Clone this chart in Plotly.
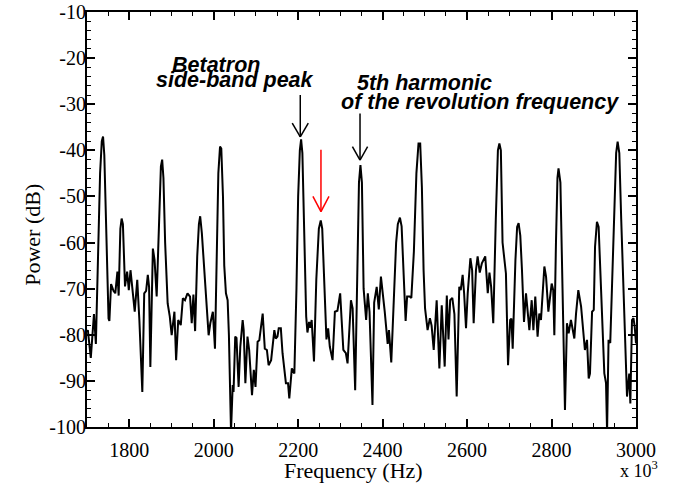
import plotly.graph_objects as go

# ---- data ----
freq = [1700, 1702, 1709, 1716.5, 1721, 1726, 1731, 1735, 1738, 1741, 1745, 1749, 1751, 1753,
        1757, 1763, 1767, 1772, 1775, 1779, 1782, 1785, 1790, 1795, 1799, 1803, 1806, 1813,
        1819, 1824, 1831, 1835.5, 1840, 1844, 1847, 1850, 1856, 1860, 1865, 1870, 1875, 1878,
        1881, 1885, 1891, 1896, 1900.5, 1907, 1911, 1916, 1922, 1927, 1932, 1938, 1944, 1948,
        1952, 1956, 1961, 1965, 1968, 1972, 1978, 1982, 1988, 1992, 1998, 2003, 2007, 2011,
        2015, 2018, 2022, 2025, 2029, 2033, 2036, 2041, 2045, 2047, 2051, 2054, 2059, 2063,
        2068.6, 2071, 2075, 2080, 2084, 2088, 2090.7, 2095, 2099, 2104, 2108, 2116, 2121, 2126,
        2130, 2136, 2143.6, 2147, 2151, 2154, 2159, 2163, 2167, 2171, 2176, 2179, 2185, 2191,
        2196, 2200, 2204, 2207, 2210, 2214, 2219, 2222, 2226, 2229, 2232, 2237.5, 2243, 2249,
        2253.5, 2257, 2260, 2267, 2271, 2275, 2281.5, 2287, 2293, 2299.5, 2303, 2307, 2313, 2317,
        2325, 2329, 2335, 2340, 2344, 2347.5, 2351, 2355, 2358, 2361, 2365, 2369, 2376, 2380,
        2386, 2391, 2396, 2401, 2405, 2412, 2415, 2420.5, 2426, 2432, 2436, 2441, 2445, 2450,
        2454.5, 2458, 2464, 2468, 2474, 2480, 2485, 2489, 2493, 2497, 2500.5, 2506.5, 2512, 2516,
        2521, 2528, 2534.4, 2540, 2547, 2552, 2556, 2560, 2565, 2570, 2575.4, 2581.5, 2585, 2589.5,
        2593, 2597.5, 2601.5, 2607.8, 2612, 2615.6, 2621, 2625, 2630, 2635, 2643, 2649, 2653, 2657,
        2662, 2668, 2673, 2676.5, 2680, 2684, 2688, 2692, 2697, 2702, 2705, 2708, 2714.5, 2718.5,
        2722, 2726, 2730, 2734.8, 2739.5, 2743, 2747.5, 2753, 2757, 2761.5, 2767, 2771, 2775, 2783,
        2787, 2792.5, 2800.3, 2804, 2806.6, 2810.5, 2814, 2816.5, 2821, 2826, 2831.8, 2836.5, 2840.5,
        2846, 2854, 2858, 2863.4, 2870, 2874, 2879, 2884, 2888, 2891, 2896, 2900, 2903, 2907.5,
        2911.5, 2917, 2925, 2929, 2931.5, 2935, 2939, 2943, 2948, 2953, 2956.5, 2960.5, 2965, 2970,
        2974, 2978.7, 2984, 2986.6, 2990.5, 2994, 2997, 3000]
power = [-79.5, -79, -85, -75.5, -82, -62, -45, -38, -37, -41, -58, -74, -76.5, -77,
         -69, -70.5, -71, -66.3, -71.5, -57, -54.8, -56, -69.5, -66.3, -70.3, -66, -68.8, -75,
         -68.1, -76.8, -92.4, -71, -70.5, -67, -69.6, -87, -61.3, -63.8, -71.7, -58, -43.5, -42,
         -46, -60, -73.2, -76, -80.1, -75, -85.5, -76.8, -77.9, -72.1, -72.5, -71, -71.7, -77.5,
         -71.3, -79.2, -63, -56, -54.3, -58, -66, -73, -80.1, -77.5, -75, -83, -65, -45,
         -39.2, -39.6, -50, -65, -71, -72.5, -80, -101, -90.9, -92.4, -80.4, -80.7, -91.3, -82.6,
         -76.8, -79, -90.5, -80.4, -83.3, -88.4, -93.1, -87.6, -91.3, -81.5, -81.2, -75.4, -83, -83.3,
         -86.6, -85.5, -79, -80.8, -80.4, -78.6, -78.6, -84, -86.9, -90.5, -90.5, -93.8, -87.3, -88.4,
         -70, -50, -40, -37.6, -40.6, -55, -76, -79.5, -77.2, -78.5, -76.8, -85.8, -68, -57,
         -55.2, -57, -64, -81, -78.6, -82.6, -85.5, -75, -74.8, -71, -76.8, -83.3, -84, -86.2,
         -72.5, -74.3, -92, -65, -47, -43.2, -47, -70, -73.9, -76.8, -71, -75, -95.2, -73,
         -69.6, -74.5, -67.4, -71, -75, -82, -79, -86, -74, -60, -56, -54.6, -56.5, -68,
         -77, -71.7, -71.7, -72, -62, -45, -38.5, -38.5, -48, -66, -74.3, -79, -76.4, -78,
         -83.3, -72.5, -87.3, -73.6, -86.9, -71.5, -81, -72.5, -72, -75.5, -93.4, -69.6, -70.3, -67,
         -71, -78.6, -71, -63.4, -66, -77.5, -66, -63, -66.5, -64.5, -63, -71, -66.5, -69.6,
         -77.5, -55, -40, -38.5, -40, -60, -63.8, -66.7, -86.6, -76.8, -76.5, -83, -63.8, -56.6,
         -55.8, -58.5, -66, -77.2, -71, -73.9, -79, -72.5, -79, -71.7, -80.4, -75.4, -76.8, -65.2,
         -67.4, -75, -68.9, -70.3, -80.1, -60, -46, -43.9, -47, -70, -96.3, -77.5, -79.7,
         -76.8, -80.8, -75.4, -70.3, -73.9, -78, -83.3, -81.1, -89.5, -88.4, -75, -74.6, -60.9, -55.5,
         -56.6, -69.6, -88.4, -90.5, -101, -81.1, -81.8, -70, -55, -40.6, -38.1, -40.6, -55, -70.3,
         -81.1, -93.4, -88.4, -94.9, -76.8, -76.4, -78.3, -81.9]

y_tick_vals = [-10, -20, -30, -40, -50, -60, -70, -80, -90, -100]
y_tick_text = ["-10", "-20", "-30", "-40", "-50", "-60", "-70", "-80", "-90", "-100"]
x_tick_vals = [1800, 2000, 2200, 2400, 2600, 2800, 3000]
x_tick_text = ["1800", "2000", "2200", "2400", "2600", "2800", "3000"]

# annotation arrows: x, y_start, y_tip, y_head, head half width (Hz), colour
arrows = [
    (2205.0, -28.0, -37.1, -34.1, 19.0, "black"),
    (2346.5, -32.0, -42.1, -39.2, 18.0, "black"),
    (2254.0, -39.9, -53.3, -50.0, 19.0, "#ff0000"),
]
labels = [
    ("Betatron", 2005.0, -21.4),
    ("side-band peak", 2050.5, -24.75),
    ("5th harmonic", 2498.0, -25.3),
    ("of the revolution frequency", 2630.6, -29.6),
]

SERIF = "Liberation Serif, Times New Roman, serif"
SANS = "Liberation Sans, Arial, sans-serif"

fig = go.Figure()
fig.add_trace(go.Scatter(x=freq, y=power, mode="lines",
                         line=dict(color="black", width=2),
                         showlegend=False, hoverinfo="skip"))

shapes = []
for (ax, ys, yt, yh, hw, col) in arrows:
    lw = 1.5
    shapes.append(dict(type="line", xref="x", yref="y", x0=ax, x1=ax, y0=ys, y1=yt,
                       line=dict(color=col, width=lw)))
    shapes.append(dict(type="line", xref="x", yref="y", x0=ax - hw, x1=ax, y0=yh, y1=yt,
                       line=dict(color=col, width=lw)))
    shapes.append(dict(type="line", xref="x", yref="y", x0=ax + hw, x1=ax, y0=yh, y1=yt,
                       line=dict(color=col, width=lw)))

annotations = []
for (txt, ax, ay) in labels:
    annotations.append(dict(text="<b><i>" + txt + "</i></b>", x=ax, y=ay, xref="x", yref="y",
                            showarrow=False, xanchor="center", yanchor="middle",
                            font=dict(family=SANS, size=21.5, color="black")))
annotations.append(dict(text="x 10<sup>3</sup>", x=1.006, y=-0.103, xref="paper", yref="paper",
                        showarrow=False, xanchor="center", yanchor="middle",
                        font=dict(family=SERIF, size=18, color="black")))
annotations.append(dict(text="Frequency (Hz)", x=0.486, y=-0.104, xref="paper", yref="paper",
                        showarrow=False, xanchor="center", yanchor="middle",
                        font=dict(family=SERIF, size=22, color="black")))
annotations.append(dict(text="Power (dB)", x=-0.0984, y=0.463, xref="paper", yref="paper",
                        showarrow=False, xanchor="center", yanchor="middle", textangle=-90,
                        font=dict(family=SERIF, size=22, color="black")))

fig.update_layout(
    width=674, height=496,
    margin=dict(l=87, r=38, t=12, b=69),
    paper_bgcolor="white", plot_bgcolor="white",
    shapes=shapes, annotations=annotations,
    xaxis=dict(range=[1700, 3000], tickmode="array", tickvals=x_tick_vals, ticktext=x_tick_text,
               automargin=False, ticklabelstandoff=4,
               ticks="inside", ticklen=8, tickwidth=1.5, tickcolor="black",
               showline=True, linewidth=2, linecolor="black", mirror="allticks",
               showgrid=False, zeroline=False,
               minor=dict(tickmode="linear", tick0=1700, dtick=50, ticks="inside", ticklen=4,
                          tickwidth=1.2, tickcolor="black", showgrid=False),
               tickfont=dict(family=SERIF, size=20, color="black")),
    yaxis=dict(range=[-100, -10], tickmode="array", tickvals=y_tick_vals, ticktext=y_tick_text,
               automargin=False, ticklabelstandoff=-5,
               ticks="inside", ticklen=8, tickwidth=1.5, tickcolor="black",
               showline=True, linewidth=2, linecolor="black", mirror="allticks",
               showgrid=False, zeroline=False,
               minor=dict(tickmode="linear", tick0=-100, dtick=2, ticks="inside", ticklen=4,
                          tickwidth=1.2, tickcolor="black", showgrid=False),
               tickfont=dict(family=SERIF, size=20, color="black")),
)

# remove the browser's default 8 px page margin so the figure sits at the window's corner
fig.write_html("out.html", config={"displayModeBar": False},
               post_script="document.body.style.margin='0';")
